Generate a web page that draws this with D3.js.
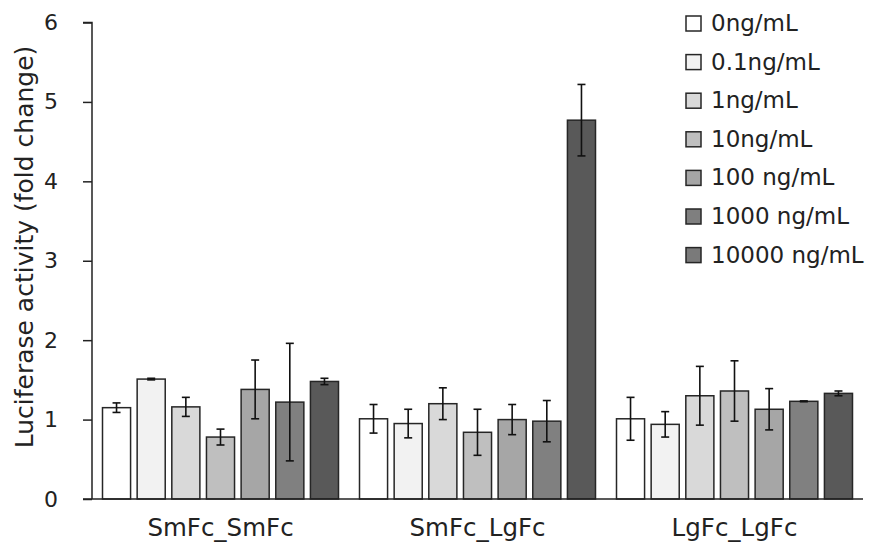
<!DOCTYPE html>
<html>
<head>
<meta charset="utf-8">
<script src="https://cdn.jsdelivr.net/npm/d3@7"></script>
<style>
html,body{margin:0;padding:0;background:#fff;}
svg{display:block;font-family:"DejaVu Sans",Verdana,sans-serif;}
</style>
</head>
<body>
<svg id="chart" width="874" height="555"></svg>
<script>
const groups = ["SmFc_SmFc", "SmFc_LgFc", "LgFc_LgFc"];
const series = ["0ng/mL", "0.1ng/mL", "1ng/mL", "10ng/mL", "100 ng/mL", "1000 ng/mL", "10000 ng/mL"];
const barColors = ["#ffffff", "#f2f2f2", "#d9d9d9", "#bfbfbf", "#a6a6a6", "#808080", "#595959"];
const legendColors = ["#ffffff", "#f2f2f2", "#d9d9d9", "#bfbfbf", "#a6a6a6", "#7f7f7f", "#7a7a7a"];
// values[group][series]
const values = [
  [1.15, 1.51, 1.16, 0.78, 1.38, 1.22, 1.48],
  [1.01, 0.95, 1.20, 0.84, 1.00, 0.98, 4.77],
  [1.01, 0.94, 1.30, 1.36, 1.13, 1.23, 1.33]
];
const errors = [
  [0.06, 0.01, 0.12, 0.10, 0.37, 0.74, 0.04],
  [0.18, 0.18, 0.20, 0.29, 0.19, 0.26, 0.45],
  [0.27, 0.16, 0.37, 0.38, 0.26, 0.005, 0.03]
];
const yTicks = [0, 1, 2, 3, 4, 5, 6];
const yLabel = "Luciferase activity (fold change)";

const svg = d3.select("#chart");
const mLeft = 92, mRight = 863, mTop = 22.5, mBottom = 499;

const x0 = d3.scaleBand().domain(groups).range([mLeft, mRight]).paddingInner(0).paddingOuter(0);
const x1 = d3.scaleBand().domain(series).range([10.5, x0.bandwidth() - 10.5]).paddingInner(0.19).paddingOuter(0);
const y = d3.scaleLinear().domain([0, 6]).range([mBottom, mTop]);

// bars
const g = svg.append("g");
groups.forEach((grp, gi) => {
  series.forEach((s, si) => {
    const v = values[gi][si];
    const bx = x0(grp) + x1(s);
    g.append("rect")
      .attr("x", bx).attr("y", y(v))
      .attr("width", x1.bandwidth()).attr("height", y(0) - y(v))
      .attr("fill", barColors[si]).attr("stroke", "#262626").attr("stroke-width", 1.5);
  });
});
// error bars
groups.forEach((grp, gi) => {
  series.forEach((s, si) => {
    const v = values[gi][si], e = errors[gi][si];
    const cx = x0(grp) + x1(s) + x1.bandwidth() / 2;
    const eg = svg.append("g").attr("stroke", "#111").attr("stroke-width", 1.6).attr("fill", "none");
    eg.append("line").attr("x1", cx).attr("x2", cx).attr("y1", y(v + e)).attr("y2", y(v - e));
    eg.append("line").attr("x1", cx - 4).attr("x2", cx + 4).attr("y1", y(v + e)).attr("y2", y(v + e));
    eg.append("line").attr("x1", cx - 4).attr("x2", cx + 4).attr("y1", y(v - e)).attr("y2", y(v - e));
  });
});

// y axis
const yAxis = d3.axisLeft(y).tickValues(yTicks).tickSize(9).tickPadding(25).tickFormat(d3.format("d"));
const ya = svg.append("g").attr("transform", `translate(${mLeft},0)`).call(yAxis);
ya.select(".domain").attr("stroke", "#222").attr("stroke-width", 1.5).attr("d", `M-9,${mTop}H0V${mBottom}`);
ya.selectAll(".tick line").attr("stroke", "#222").attr("stroke-width", 1.5);
ya.selectAll(".tick text").attr("font-size", 22).attr("fill", "#222").attr("font-family", "DejaVu Sans");

// x axis
const xAxis = d3.axisBottom(x0).tickSize(0).tickPadding(20);
const xa = svg.append("g").attr("transform", `translate(0,${mBottom})`).call(xAxis);
xa.select(".domain").attr("stroke", "#222").attr("stroke-width", 1.5).attr("d", `M${mLeft - 9},0H${mRight}`);
xa.selectAll(".tick text").attr("font-size", 24.5).attr("fill", "#222").attr("font-family", "DejaVu Sans");

// y label
svg.append("text")
  .attr("transform", `translate(24,247) rotate(-90)`)
  .attr("text-anchor", "middle").attr("dominant-baseline", "central")
  .attr("font-size", 25).attr("fill", "#222").text(yLabel);

// legend
const lg = svg.append("g").attr("transform", "translate(686,0)");
series.forEach((s, i) => {
  const cy = 23 + i * 38.6;
  lg.append("rect").attr("x", 0).attr("y", cy - 7).attr("width", 15).attr("height", 15)
    .attr("fill", legendColors[i]).attr("stroke", "#262626").attr("stroke-width", 1.5);
  lg.append("text").attr("x", 25).attr("y", cy).attr("dominant-baseline", "central")
    .attr("font-size", 23).attr("fill", "#222").text(s);
});
</script>
</body>
</html>
